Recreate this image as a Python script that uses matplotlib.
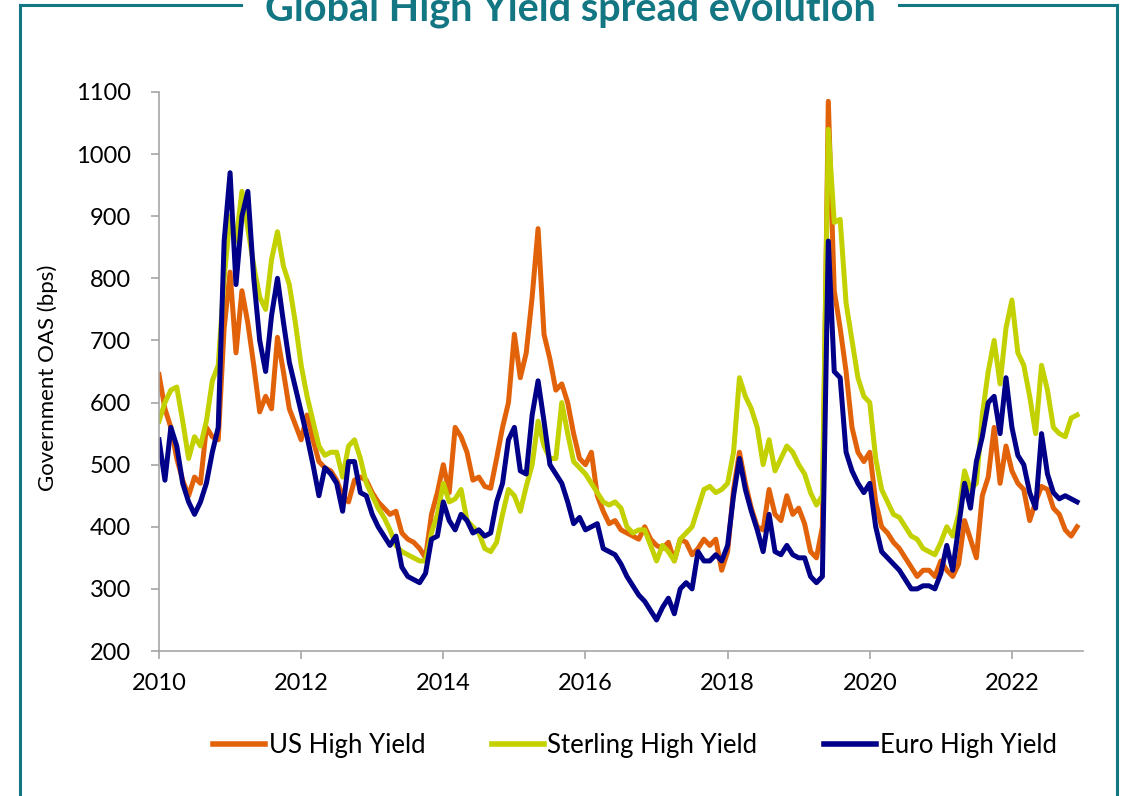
import numpy as np
import matplotlib.pyplot as plt
from matplotlib.lines import Line2D

# monthly readings, Jan 2010 .. Dec 2022 (bps)
us_hy = [
    645, 590, 560, 510, 475, 450, 480, 470, 560, 545, 540, 720,
    810, 680, 780, 728, 660, 585, 610, 590, 705, 650, 590, 565,
    540, 580, 540, 505, 495, 490, 475, 450, 440, 475, 480, 475,
    455, 440, 430, 420, 425, 390, 380, 375, 365, 350, 420, 455,
    500, 455, 560, 545, 520, 475, 480, 465, 462, 510, 560, 600,
    710, 640, 680, 770, 880, 710, 670, 620, 630, 600, 550, 510,
    500, 520, 450, 425, 405, 410, 395, 390, 385, 380, 400, 380,
    370, 365, 375, 345, 380, 375, 355, 365, 380, 370, 380, 330,
    360, 460, 520, 470, 430, 400, 395, 460, 420, 410, 450, 420,
    430, 405, 360, 350, 400, 1085, 780, 720, 650, 560, 520, 505,
    520, 440, 400, 390, 375, 365, 350, 335, 320, 330, 330, 320,
    345, 330, 320, 340, 410, 380, 350, 450, 480, 560, 470, 530,
    490, 470, 460, 410, 440, 465, 460, 430, 420, 395, 385, 400,
]
sterling_hy = [
    570, 600, 620, 625, 570, 510, 545, 530, 570, 635, 660, 800,
    900, 860, 940, 880, 820, 770, 750, 830, 875, 820, 790, 730,
    660, 610, 570, 530, 515, 520, 520, 480, 530, 540, 510, 470,
    450, 430, 415, 395, 370, 360, 355, 350, 345, 345, 390, 420,
    470, 440, 445, 460, 410, 400, 390, 365, 360, 375, 420, 460,
    450, 425, 465, 500, 570, 530, 510, 510, 600, 550, 505, 495,
    485, 470, 455, 440, 435, 440, 430, 400, 390, 395, 395, 370,
    345, 370, 360, 345, 380, 390, 400, 430, 460, 465, 455, 460,
    470, 520, 640, 610, 590, 560, 500, 540, 490, 510, 530, 520,
    500, 485, 455, 435, 450, 1040, 890, 895, 760, 700, 640, 610,
    600, 510, 460, 440, 420, 415, 400, 385, 380, 365, 360, 355,
    375, 400, 385, 420, 490, 460, 470, 580, 650, 700, 630, 720,
    765, 680, 660, 610, 550, 660, 620, 560, 550, 545, 575, 580,
]
euro_hy = [
    540, 475, 560, 530, 470, 440, 420, 440, 470, 520, 560, 860,
    970, 790, 900, 940, 800, 700, 650, 740, 800, 730, 665, 625,
    585, 545, 500, 450, 495, 485, 470, 425, 505, 505, 455, 450,
    420, 400, 385, 370, 385, 335, 320, 315, 310, 325, 380, 385,
    440, 410, 395, 420, 410, 390, 395, 385, 390, 440, 470, 540,
    560, 490, 485, 580, 635, 570, 500, 485, 470, 440, 405, 415,
    395, 400, 405, 365, 360, 355, 340, 320, 305, 290, 280, 265,
    250, 270, 285, 260, 300, 310, 300, 360, 345, 345, 355, 345,
    370, 450, 510, 460, 425, 395, 360, 420, 360, 355, 370, 355,
    350, 350, 320, 310, 320, 860, 650, 640, 520, 490, 470, 455,
    470, 400, 360, 350, 340, 330, 315, 300, 300, 305, 305, 300,
    325, 370, 330, 400, 470, 430, 505, 545, 600, 610, 550, 640,
    560, 515, 500, 455, 430, 550, 485, 455, 445, 450, 445, 440,
]
labels = ["US High Yield", "Sterling High Yield", "Euro High Yield"]
colors = ["#E2620A", "#C3D100", "#000088"]

years = 2010 + np.arange(len(us_hy)) / 12
teal = "#137683"

plt.rcParams['font.family'] = ['Lato', 'DejaVu Sans']

fig = plt.figure(figsize=(11.25, 7.96), dpi=100)
ax = fig.add_axes([159 / 1125, 1 - 651 / 796, 924 / 1125, 559 / 796])

for vals, lab, col in zip([us_hy, sterling_hy, euro_hy], labels, colors):
    ax.plot(years, vals, color=col, lw=3.6, label=lab, solid_joinstyle='round')

ax.set_xlim(2010, 2023)
ax.set_ylim(200, 1100)
ax.set_xticks(range(2010, 2023, 2))
ax.set_yticks(range(200, 1101, 100))
for s in ['top', 'right']:
    ax.spines[s].set_visible(False)
for s in ['left', 'bottom']:
    ax.spines[s].set_color('#A6A6A6')
    ax.spines[s].set_linewidth(1.2)
ax.tick_params(axis='both', direction='out', length=6, width=1.2, color='#A6A6A6', labelsize=17)
ax.tick_params(axis='y', pad=14)
ax.tick_params(axis='x', pad=10)

fig.text(48 / 1125, 1 - 378 / 796, "Government OAS (bps)", rotation=90,
         ha='center', va='center', fontsize=16)

leg = fig.legend(loc='center', bbox_to_anchor=(635 / 1125, 1 - 745 / 796), ncol=3, frameon=False,
                 fontsize=18.5, handlelength=2.0, handletextpad=0.15, columnspacing=2.6)
for h in leg.get_lines():
    h.set_linewidth(4)

# frame around the chart with the title sitting in the top border
top = 1 - 5 / 796
for xs, ys in [([20, 241], [top, top]), ([899, 1117], [top, top]),
               ([20, 20], [top, 0]), ([1117, 1117], [top, 0])]:
    fig.add_artist(Line2D([x / 1125 for x in xs], ys, transform=fig.transFigure,
                          color=teal, lw=2.2))
fig.text(570 / 1125, 1 - 20 / 796, "Global High Yield spread evolution", ha='center',
         va='baseline', fontsize=28.5, fontweight='bold', color=teal)

fig.savefig("out.png", dpi=100)
